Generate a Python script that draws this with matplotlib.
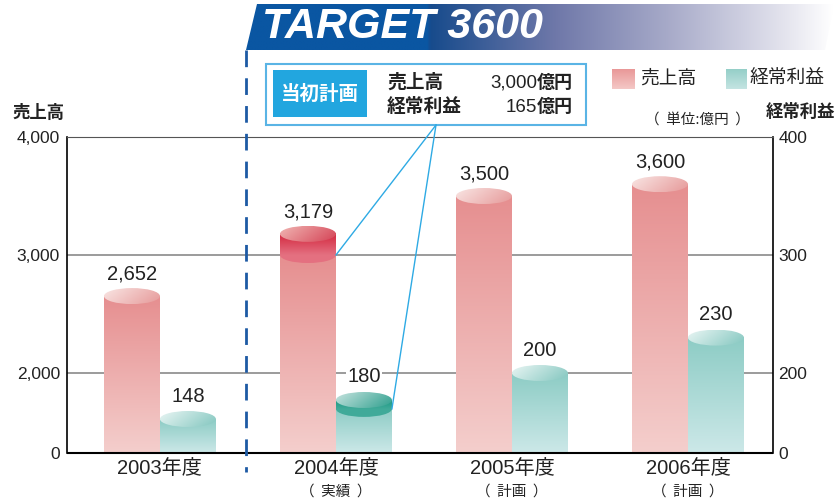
import numpy as np
import matplotlib.pyplot as plt
from matplotlib.patches import Ellipse, Polygon, Rectangle
from matplotlib.colors import to_rgb

plt.rcParams['font.family'] = ['Liberation Sans', 'Noto Sans CJK JP']

# data
years = ['2003年度', '2004年度', '2005年度', '2006年度']
notes = ['', '（  実績  ）', '（  計画  ）', '（  計画  ）']
sales = [2652, 3179, 3500, 3600]        # 売上高 (億円)
profit = [148, 180, 200, 230]           # 経常利益 (億円)
plan_sales = 3000                       # 当初計画 2004
plan_profit = 165
sales_ticks = [0, 2000, 3000, 4000]
profit_ticks = [0, 200, 300, 400]

# the original axes are broken below 2,000 / 200: value knots -> drawn height
sales_knots = ([0, 2000, 4000], [0, 80, 316])
profit_knots = ([0, 148, 180, 200, 400], [0, 34, 53, 80, 316])


def func_scale(knots):
    vk, hk = knots
    return (lambda v: np.interp(v, vk, hk), lambda h: np.interp(h, hk, vk))


fig = plt.figure(figsize=(8.36, 5), dpi=100)
ax = fig.add_axes([67 / 836, 47 / 500, 706 / 836, 316 / 500])
ax.set_yscale('function', functions=func_scale(sales_knots))
ax.set_ylim(0, 4000)
ax.set_xlim(-0.528, 3.483)
ax2 = ax.twinx()
ax2.set_yscale('function', functions=func_scale(profit_knots))
ax2.set_ylim(0, 400)

ax.set_yticks(sales_ticks, ['{:,}'.format(t) for t in sales_ticks])
ax2.set_yticks(profit_ticks, [str(t) for t in profit_ticks])
ax.set_xticks([])
ax.tick_params(axis='y', length=0, labelsize=12.5, pad=5, colors='#222222')
ax2.tick_params(axis='y', length=0, labelsize=12.5, pad=4, colors='#222222')
ax.grid(axis='y', color='#8a8a8a', lw=1.2)
ax.set_axisbelow(True)
for s in ax2.spines.values():
    s.set_visible(False)
ax.spines['bottom'].set_visible(False)
ax.spines['top'].set_color('#555555')
ax.spines['top'].set_linewidth(0.8)
ax.spines['left'].set_linewidth(1.2)
ax.spines['right'].set_linewidth(1.2)

# overlay in figure pixels (y from top) for the drawn pieces
fa = fig.add_axes([0, 0, 1, 1])
fa.set_xlim(0, 836)
fa.set_ylim(500, 0)
fa.set_autoscale_on(False)
fa.axis('off')
fa.patch.set_alpha(0)

CJK = ['Noto Sans CJK JP']


def to_px(axis, x, v):
    return fa.transData.inverted().transform(axis.transData.transform((x, v)))


def vgrad(x0, x1, ytop, ybot, ctop, cbot, z=2, clip=None):
    t = np.linspace(0, 1, 64)[:, None, None]
    img = (1 - t) * np.array(to_rgb(ctop)) + t * np.array(to_rgb(cbot))
    im = fa.imshow(img, extent=(x0, x1, ybot, ytop), origin='upper',
                   aspect='auto', interpolation='bilinear', zorder=z)
    if clip is not None:
        im.set_clip_path(clip)
    return im


def cap(xc, yc, w, h, c0, c1, z=4):
    e = Ellipse((xc, yc), w, h, facecolor='none', edgecolor='none')
    fa.add_patch(e)
    yy, xx = np.mgrid[0:1:32j, 0:1:64j]
    t = np.clip(xx * 0.8 + yy * 0.3 - 0.05, 0, 1)[..., None]
    img = (1 - t) * np.array(to_rgb(c0)) + t * np.array(to_rgb(c1))
    im = fa.imshow(img, extent=(xc - w / 2, xc + w / 2, yc + h / 2, yc - h / 2),
                   origin='upper', aspect='auto', interpolation='bilinear', zorder=z)
    im.set_clip_path(e)


bw = 0.318
eh = 16
pink = ('#e68f90', '#f4cecc', '#f8e2e0', '#e79d9d')
teal = ('#8dccc5', '#cce8e8', '#e4f3f1', '#88c9c2')
red = ('#d3273f', '#e47080', '#efb0ae', '#d6485a')
dteal = ('#1c9a84', '#40aa99', '#bfe0db', '#36a392')


def cylinder(axis, x0, x1, value, cols, plan=None, pcols=None):
    (lx, base), (rx, top) = to_px(axis, x0, 0), to_px(axis, x1, value)
    w = rx - lx
    body_top = top
    if plan is not None:
        _, py = to_px(axis, x0, plan)
        body_top = py
    vgrad(lx, rx, body_top, base, cols[0], cols[1], z=2)
    if plan is not None:
        fa.add_patch(Ellipse(((lx + rx) / 2, body_top), w, eh, facecolor=pcols[1],
                             edgecolor='none', zorder=3))
        vgrad(lx, rx, top, body_top, pcols[0], pcols[1], z=3)
        cap((lx + rx) / 2, top, w, eh, pcols[2], pcols[3])
    else:
        cap((lx + rx) / 2, top, w, eh, cols[2], cols[3])
    return (lx + rx) / 2, top


for i in range(4):
    xs, ys = cylinder(ax, i - bw, i, sales[i], pink,
                      plan_sales if i == 1 else None, red)
    fa.text(xs, ys - 22, '{:,}'.format(sales[i]), ha='center', va='center',
            fontsize=14.5, color='#222222', zorder=6)
    xp, yp = cylinder(ax2, i, i + bw, profit[i], teal,
                      plan_profit if i == 1 else None, dteal)
    fa.text(xp, yp - 23, str(profit[i]), ha='center', va='center', fontsize=14.5,
            color='#222222', zorder=6,
            bbox=dict(facecolor='white', edgecolor='none', pad=1))
    gx, gy = to_px(ax, i, 0)
    fa.text(gx, gy + 16, years[i], ha='center', va='center', fontsize=14.5, color='#222222')
    if notes[i]:
        fa.text(gx, gy + 39, notes[i], ha='center', va='center', fontsize=10.5,
                color='#222222', family=CJK)

# bottom axis line over the bars
(bx0, by), (bx1, _) = to_px(ax, -0.528, 0), to_px(ax, 3.483, 0)
fa.plot([bx0, bx1], [by, by], color='black', lw=1.5, zorder=7, solid_capstyle='butt')

# axis titles and unit
fa.text(12, 112, '売上高', ha='left', va='center', fontsize=12.5, fontweight='bold', color='#222222')
fa.text(835, 111, '経常利益', ha='right', va='center', fontsize=12.5, fontweight='bold', color='#222222')
fa.text(697, 120, '（  単位:億円  ）', ha='center', va='center', fontsize=10.5, color='#222222',
        family=CJK)

# legend
vgrad(612, 635, 69, 89, '#e99898', '#f4c8c6', z=5)
fa.text(640, 79, '売上高', ha='left', va='center', fontsize=13.5, color='#222222')
vgrad(726, 747, 69, 89, '#95cfc8', '#c4e4e2', z=5)
fa.text(749, 79, '経常利益', ha='left', va='center', fontsize=13.5, color='#222222')

# banner
banner = Polygon([(246, 50), (257, 4), (834, 4), (825, 50)], closed=True,
                 facecolor='none', edgecolor='none')
fa.add_patch(banner)
stops = [0, 181, 184, 310, 420, 540, 588]
scols = ['#0a56a2', '#0a56a2', '#174b8c', '#6f78a9', '#a6a9c8', '#e4e4ee', '#ffffff']
xs_g = np.linspace(0, 588, 300)
grad = np.stack([np.interp(xs_g, stops, [to_rgb(c)[k] for c in scols]) for k in range(3)], axis=-1)
im = fa.imshow(grad[None, :, :], extent=(246, 834, 50, 4), origin='upper',
               aspect='auto', interpolation='bilinear', zorder=5)
im.set_clip_path(banner)
fa.text(262, 27, 'TARGET 3600', ha='left', va='center', fontsize=31, fontweight='bold',
        fontstyle='italic', color='white', family='Liberation Sans', zorder=6)

# dashed separator
fa.plot([246, 246], [50, 472], color='#1d5aa4', lw=2, dashes=(6, 4), zorder=7)

# 当初計画 box and leader lines
fa.add_patch(Rectangle((266, 64), 320, 61, facecolor='white', edgecolor='#5ab4e5',
                       lw=1.5, zorder=6))
fa.add_patch(Rectangle((273, 70), 94, 47, facecolor='#22a6df', edgecolor='none', zorder=7))
fa.text(320, 94, '当初計画', ha='center', va='center', fontsize=14, fontweight='bold',
        color='white', zorder=8)
fa.text(387, 83, '売上高', ha='left', va='center', fontsize=13.5, fontweight='bold',
        color='#222222', zorder=8)
fa.text(387, 107, '経常利益', ha='left', va='center', fontsize=13.5, fontweight='bold',
        color='#222222', zorder=8)
for yy, num in [(83, '{:,}'.format(plan_sales)), (107, str(plan_profit))]:
    fa.text(573, yy, '億円', ha='right', va='center', fontsize=13, fontweight='bold',
            color='#222222', zorder=8)
    fa.text(537, yy, num, ha='right', va='center', fontsize=13.5, color='#222222', zorder=8)

sx, sy = to_px(ax, 1, plan_sales)
px_, py_ = to_px(ax2, 1 + bw, plan_profit)
for ex, ey in [(sx, sy), (px_, py_)]:
    fa.plot([436, ex], [125, ey], color='#2eaae4', lw=1, zorder=7)

fa.set_xlim(0, 836)
fa.set_ylim(500, 0)
fig.savefig('out.png', dpi=100)
